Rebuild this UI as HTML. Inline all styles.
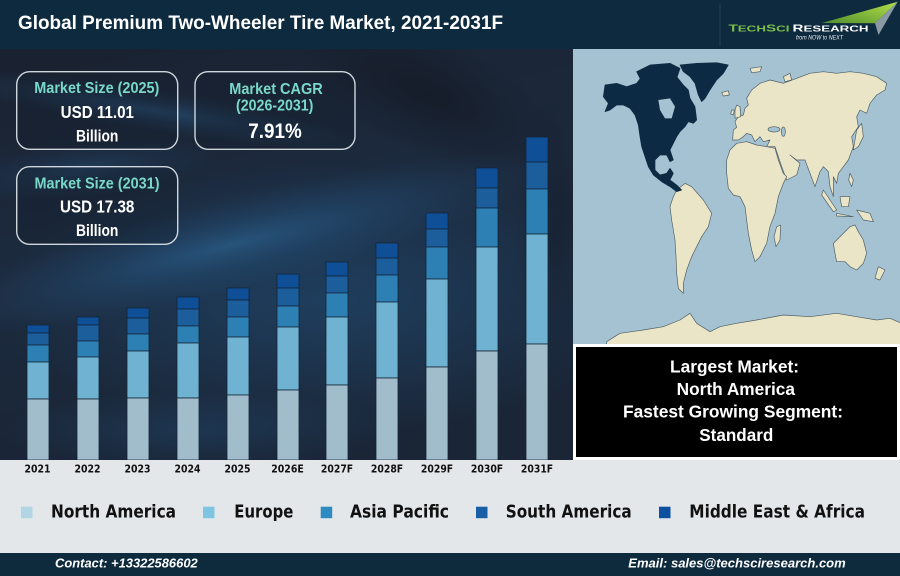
<!DOCTYPE html>
<html><head><meta charset="utf-8"><style>
html,body{margin:0;padding:0;}
body{width:900px;height:576px;overflow:hidden;background:#e3e7e9;}
svg{display:block;}
.ls{font-family:"Liberation Sans",Arial,sans-serif;font-weight:bold;}
.dj{font-family:"DejaVu Sans","Liberation Sans",sans-serif;font-weight:bold;}
</style></head><body>
<svg width="900" height="576" viewBox="0 0 900 576" xmlns="http://www.w3.org/2000/svg">
<defs>
<radialGradient id="g1" cx="0.5" cy="0.5" r="0.5">
<stop offset="0" stop-color="#2f6e9e" stop-opacity="0.55"/>
<stop offset="0.5" stop-color="#26598a" stop-opacity="0.25"/>
<stop offset="1" stop-color="#24547c" stop-opacity="0"/>
</radialGradient>
<radialGradient id="g2" cx="0.5" cy="0.5" r="0.5">
<stop offset="0" stop-color="#22507a" stop-opacity="0.55"/>
<stop offset="1" stop-color="#21507a" stop-opacity="0"/>
</radialGradient>
<radialGradient id="gd" cx="0.5" cy="0.5" r="0.5">
<stop offset="0" stop-color="#141a26" stop-opacity="0.8"/>
<stop offset="1" stop-color="#141a26" stop-opacity="0"/>
</radialGradient>
<linearGradient id="bgl" x1="0" y1="0" x2="0.3" y2="1">
<stop offset="0" stop-color="#1a2130"/>
<stop offset="0.5" stop-color="#1c2b3f"/>
<stop offset="1" stop-color="#1a2536"/>
</linearGradient>
<linearGradient id="grn" x1="1" y1="0" x2="0" y2="1">
<stop offset="0" stop-color="#b6e04a"/>
<stop offset="1" stop-color="#4f8f2c"/>
</linearGradient>
<clipPath id="chartclip"><rect x="0" y="49" width="573" height="411"/></clipPath>
<clipPath id="mapclip"><rect x="573" y="49" width="327" height="295"/></clipPath>
</defs>

<!-- header -->
<rect x="0" y="0" width="900" height="49" fill="#0e2a3f"/>
<text class="ls" x="18" y="29" font-size="19" fill="#ffffff" textLength="485" lengthAdjust="spacingAndGlyphs">Global Premium Two-Wheeler Tire Market, 2021-2031F</text>
<line x1="720" y1="4" x2="720" y2="46" stroke="#27425a" stroke-width="1"/>
<polygon points="897.7,1.7 822,23 875,23.3" fill="url(#grn)"/>
<polygon points="897.7,1.7 875,23.3 878.5,35" fill="#8a9aa4"/>
<text class="ls" x="728.5" y="31.7" font-size="8.6" fill="#7cc04a" textLength="61" lengthAdjust="spacingAndGlyphs"><tspan font-size="9.8">T</tspan>ECH<tspan font-size="9.8">S</tspan>CI</text>
<text class="ls" x="792.5" y="31.7" font-size="8.6" fill="#ffffff" textLength="76" lengthAdjust="spacingAndGlyphs"><tspan font-size="9.8">R</tspan>ESEARCH</text>
<text x="796" y="39.7" font-family="Liberation Sans, Arial, sans-serif" font-style="italic" font-size="6.3" fill="#e8eef2" textLength="47" lengthAdjust="spacingAndGlyphs">from NOW to NEXT</text>

<!-- chart background -->
<g clip-path="url(#chartclip)">
<rect x="0" y="49" width="573" height="411" fill="url(#bgl)"/>
<ellipse cx="330" cy="300" rx="330" ry="140" fill="url(#g2)"/>
<ellipse cx="230" cy="245" rx="320" ry="48" fill="url(#g1)" transform="rotate(-14 230 245)"/>
<ellipse cx="150" cy="110" rx="220" ry="22" fill="url(#g1)" transform="rotate(9 150 110)" opacity="0.8"/>
<ellipse cx="80" cy="170" rx="140" ry="28" fill="url(#g1)" transform="rotate(-6 80 170)" opacity="0.6"/>
<ellipse cx="200" cy="430" rx="200" ry="40" fill="url(#g2)" opacity="0.7"/>
<ellipse cx="430" cy="95" rx="150" ry="60" fill="url(#gd)" transform="rotate(25 430 95)"/>
<ellipse cx="555" cy="230" rx="40" ry="160" fill="url(#gd)" opacity="0.6"/>
</g>

<!-- KPI boxes -->
<rect x="16.7" y="71.7" width="161" height="77.6" rx="13" fill="#141d2c" fill-opacity="0.3" stroke="#cfd6dc" stroke-width="1.4"/>
<rect x="195" y="71.7" width="160" height="77.6" rx="13" fill="#141d2c" fill-opacity="0.3" stroke="#cfd6dc" stroke-width="1.4"/>
<rect x="16.7" y="166.7" width="161" height="77.6" rx="13" fill="#141d2c" fill-opacity="0.3" stroke="#cfd6dc" stroke-width="1.4"/>

<g class="ls" text-anchor="middle">
<text transform="translate(96.8,93) scale(1,1.08)" font-size="14.4" fill="#79d8c8" textLength="125" lengthAdjust="spacingAndGlyphs">Market Size (2025)</text>
<text transform="translate(97.3,118) scale(1,1.08)" font-size="16" fill="#ffffff" textLength="73.3" lengthAdjust="spacingAndGlyphs">USD 11.01</text>
<text transform="translate(97.2,141.5) scale(1,1.08)" font-size="15" fill="#ffffff" textLength="42.3" lengthAdjust="spacingAndGlyphs">Billion</text>

<text transform="translate(276,94) scale(1,1.08)" font-size="14.6" fill="#79d8c8" textLength="93.4" lengthAdjust="spacingAndGlyphs">Market CAGR</text>
<text transform="translate(274.7,110.5) scale(1,1.08)" font-size="14.6" fill="#79d8c8" textLength="77.3" lengthAdjust="spacingAndGlyphs">(2026-2031)</text>
<text transform="translate(275,138) scale(1,1.08)" font-size="20" fill="#ffffff" textLength="53.4" lengthAdjust="spacingAndGlyphs">7.91%</text>

<text transform="translate(97,188.5) scale(1,1.08)" font-size="14.4" fill="#79d8c8" textLength="125" lengthAdjust="spacingAndGlyphs">Market Size (2031)</text>
<text transform="translate(97.2,212.7) scale(1,1.08)" font-size="16" fill="#ffffff" textLength="74.3" lengthAdjust="spacingAndGlyphs">USD 17.38</text>
<text transform="translate(97.2,236) scale(1,1.08)" font-size="15" fill="#ffffff" textLength="42.3" lengthAdjust="spacingAndGlyphs">Billion</text>
</g>

<!-- bars -->
<g stroke="#152538" stroke-width="0.8">
<rect x="27" y="325" width="22" height="8" fill="#0e4f97"/>
<rect x="27" y="333" width="22" height="12" fill="#1c5d9b"/>
<rect x="27" y="345" width="22" height="17" fill="#2d80b3"/>
<rect x="27" y="362" width="22" height="37" fill="#6fb2d2"/>
<rect x="27" y="399" width="22" height="61" fill="#a1bccb"/>
<rect x="77" y="317" width="22" height="8" fill="#0e4f97"/>
<rect x="77" y="325" width="22" height="16" fill="#1c5d9b"/>
<rect x="77" y="341" width="22" height="16" fill="#2d80b3"/>
<rect x="77" y="357" width="22" height="42" fill="#6fb2d2"/>
<rect x="77" y="399" width="22" height="61" fill="#a1bccb"/>
<rect x="127" y="308" width="22" height="10" fill="#0e4f97"/>
<rect x="127" y="318" width="22" height="16" fill="#1c5d9b"/>
<rect x="127" y="334" width="22" height="17" fill="#2d80b3"/>
<rect x="127" y="351" width="22" height="47" fill="#6fb2d2"/>
<rect x="127" y="398" width="22" height="62" fill="#a1bccb"/>
<rect x="177" y="297" width="22" height="12" fill="#0e4f97"/>
<rect x="177" y="309" width="22" height="17" fill="#1c5d9b"/>
<rect x="177" y="326" width="22" height="17" fill="#2d80b3"/>
<rect x="177" y="343" width="22" height="55" fill="#6fb2d2"/>
<rect x="177" y="398" width="22" height="62" fill="#a1bccb"/>
<rect x="227" y="288" width="22" height="12" fill="#0e4f97"/>
<rect x="227" y="300" width="22" height="17" fill="#1c5d9b"/>
<rect x="227" y="317" width="22" height="20" fill="#2d80b3"/>
<rect x="227" y="337" width="22" height="58" fill="#6fb2d2"/>
<rect x="227" y="395" width="22" height="65" fill="#a1bccb"/>
<rect x="277" y="274" width="22" height="14" fill="#0e4f97"/>
<rect x="277" y="288" width="22" height="18" fill="#1c5d9b"/>
<rect x="277" y="306" width="22" height="21" fill="#2d80b3"/>
<rect x="277" y="327" width="22" height="63" fill="#6fb2d2"/>
<rect x="277" y="390" width="22" height="70" fill="#a1bccb"/>
<rect x="326" y="262" width="22" height="14" fill="#0e4f97"/>
<rect x="326" y="276" width="22" height="17" fill="#1c5d9b"/>
<rect x="326" y="293" width="22" height="24" fill="#2d80b3"/>
<rect x="326" y="317" width="22" height="68" fill="#6fb2d2"/>
<rect x="326" y="385" width="22" height="75" fill="#a1bccb"/>
<rect x="376" y="243" width="22" height="15" fill="#0e4f97"/>
<rect x="376" y="258" width="22" height="17" fill="#1c5d9b"/>
<rect x="376" y="275" width="22" height="27" fill="#2d80b3"/>
<rect x="376" y="302" width="22" height="76" fill="#6fb2d2"/>
<rect x="376" y="378" width="22" height="82" fill="#a1bccb"/>
<rect x="426" y="213" width="22" height="16" fill="#0e4f97"/>
<rect x="426" y="229" width="22" height="18" fill="#1c5d9b"/>
<rect x="426" y="247" width="22" height="32" fill="#2d80b3"/>
<rect x="426" y="279" width="22" height="88" fill="#6fb2d2"/>
<rect x="426" y="367" width="22" height="93" fill="#a1bccb"/>
<rect x="476" y="168" width="22" height="20" fill="#0e4f97"/>
<rect x="476" y="188" width="22" height="20" fill="#1c5d9b"/>
<rect x="476" y="208" width="22" height="39" fill="#2d80b3"/>
<rect x="476" y="247" width="22" height="104" fill="#6fb2d2"/>
<rect x="476" y="351" width="22" height="109" fill="#a1bccb"/>
<rect x="526" y="137" width="22" height="25" fill="#0e4f97"/>
<rect x="526" y="162" width="22" height="27" fill="#1c5d9b"/>
<rect x="526" y="189" width="22" height="45" fill="#2d80b3"/>
<rect x="526" y="234" width="22" height="110" fill="#6fb2d2"/>
<rect x="526" y="344" width="22" height="116" fill="#a1bccb"/>
</g>

<!-- lower band -->
<rect x="0" y="460" width="900" height="93" fill="#e3e7e9"/>

<!-- axis labels -->
<g class="dj" font-size="9.4" fill="#111111" text-anchor="middle">
<text transform="translate(37.5,472.3) scale(1,1.17)" textLength="26" lengthAdjust="spacingAndGlyphs">2021</text>
<text transform="translate(87.5,472.3) scale(1,1.17)" textLength="26" lengthAdjust="spacingAndGlyphs">2022</text>
<text transform="translate(137.5,472.3) scale(1,1.17)" textLength="26" lengthAdjust="spacingAndGlyphs">2023</text>
<text transform="translate(187.5,472.3) scale(1,1.17)" textLength="26" lengthAdjust="spacingAndGlyphs">2024</text>
<text transform="translate(237.5,472.3) scale(1,1.17)" textLength="26" lengthAdjust="spacingAndGlyphs">2025</text>
<text transform="translate(287.5,472.3) scale(1,1.17)" textLength="32.5" lengthAdjust="spacingAndGlyphs">2026E</text>
<text transform="translate(337,472.3) scale(1,1.17)" textLength="32.3" lengthAdjust="spacingAndGlyphs">2027F</text>
<text transform="translate(387,472.3) scale(1,1.17)" textLength="32.3" lengthAdjust="spacingAndGlyphs">2028F</text>
<text transform="translate(437,472.3) scale(1,1.17)" textLength="32.3" lengthAdjust="spacingAndGlyphs">2029F</text>
<text transform="translate(487,472.3) scale(1,1.17)" textLength="32.3" lengthAdjust="spacingAndGlyphs">2030F</text>
<text transform="translate(537,472.3) scale(1,1.17)" textLength="32.3" lengthAdjust="spacingAndGlyphs">2031F</text>
</g>

<!-- map -->
<g clip-path="url(#mapclip)">
<rect x="573" y="49" width="327" height="295" fill="#a4c2d1"/>
<g transform="translate(570,40) scale(0.33333)" stroke="#4d5d63" stroke-width="2" stroke-linejoin="round">
<polygon fill="#ebe5c8" points="488,300 490,270 500,262 495,245 505,230 520,225 525,205 535,195 530,175 545,150 570,130 600,120 640,130 680,115 720,100 760,95 800,100 840,95 880,100 920,110 950,130 945,150 920,165 900,190 890,220 870,210 860,230 865,260 845,290 850,320 835,360 820,380 805,400 800,430 790,410 790,470 780,440 775,395 760,380 750,395 735,440 720,400 705,360 680,360 660,345 690,370 680,405 650,420 635,380 620,335 615,320 590,320 600,300 580,305 570,290 555,305 545,285 530,280 520,290 505,300"/>
<ellipse cx="612" cy="268" rx="18" ry="8" fill="#a4c2d1"/>
<ellipse cx="640" cy="275" rx="6" ry="14" fill="#a4c2d1"/>
<polygon fill="#ebe5c8" points="500,195 510,200 512,230 495,235 495,210"/>
<polygon fill="#ebe5c8" points="485,210 493,210 490,225 482,222"/>
<polygon fill="#ebe5c8" points="455,158 475,152 478,165 460,168"/>
<polygon fill="#ebe5c8" points="540,85 575,80 570,95 545,98"/>
<polygon fill="#ebe5c8" points="640,110 660,100 665,120 645,125"/>
<polygon fill="#ebe5c8" points="480,330 500,310 530,305 560,315 590,320 615,325 625,360 640,400 650,410 640,430 625,470 615,520 600,560 590,610 570,650 555,665 545,630 535,580 530,540 525,500 510,470 490,465 475,445 470,400 470,360"/>
<polygon fill="#ebe5c8" points="620,560 632,555 630,600 618,620 612,590"/>
<polygon fill="#ebe5c8" points="320,450 345,430 365,440 400,480 425,520 415,560 395,590 385,610 365,650 350,690 340,730 340,760 325,745 320,700 318,650 315,600 305,540 300,500 310,470"/>
<polygon fill="#ebe5c8" points="790,610 820,580 840,560 855,555 865,575 880,600 890,640 880,670 860,690 840,680 825,665 800,665 795,640"/>
<polygon fill="#ebe5c8" points="860,510 900,520 910,545 880,540"/>
<polygon fill="#ebe5c8" points="810,470 840,470 835,500 815,500"/>
<polygon fill="#ebe5c8" points="760,450 800,510 790,515 755,465"/>
<polygon fill="#ebe5c8" points="800,520 850,530 800,528"/>
<polygon fill="#ebe5c8" points="860,270 875,250 880,290 865,320 850,330 855,300"/>
<polygon fill="#ebe5c8" points="840,400 850,420 845,440 836,420"/>
<polygon fill="#ebe5c8" points="925,680 945,690 930,720 915,715"/>
<polygon fill="#ebe5c8" points="110,905 150,880 220,870 280,860 330,840 360,820 380,850 420,875 450,860 500,850 560,840 640,825 720,830 800,820 860,830 920,840 960,835 995,850 995,935 110,935"/>
<polygon fill="#0c2a43" stroke="#0c2a43" points="105,135 140,130 170,140 200,130 215,110 250,100 290,95 320,110 340,135 355,150 360,175 375,200 380,240 370,250 355,245 345,260 330,275 320,290 310,310 300,330 310,360 300,365 290,345 270,345 255,360 255,390 270,405 290,400 300,385 310,400 300,420 320,435 335,450 320,455 300,440 275,425 250,405 235,380 225,350 215,320 210,290 205,255 195,225 180,205 160,195 140,195 120,210 105,215 115,190 100,170"/>
<polygon fill="#0c2a43" stroke="#0c2a43" points="200,95 240,75 300,70 330,85 320,115 290,125 250,130 215,125"/>
<polygon fill="#a4c2d1" stroke="none" points="265,180 300,175 315,200 305,235 285,235 270,210"/>
<polygon fill="#0c2a43" stroke="#0c2a43" points="330,75 380,70 440,68 475,75 460,100 440,120 420,150 405,175 395,185 385,165 375,130 360,110 340,95"/>
</g>
</g>

<!-- info box -->
<rect x="574.5" y="345.5" width="324" height="113" fill="#000000" stroke="#ffffff" stroke-width="3"/>
<g class="ls" font-size="17.4" fill="#ffffff" text-anchor="middle">
<text x="734.5" y="372.3" textLength="129" lengthAdjust="spacingAndGlyphs">Largest Market:</text>
<text x="735.8" y="395" textLength="118.3" lengthAdjust="spacingAndGlyphs">North America</text>
<text x="733" y="417.7" textLength="220" lengthAdjust="spacingAndGlyphs">Fastest Growing Segment:</text>
<text x="736.3" y="441" textLength="74" lengthAdjust="spacingAndGlyphs">Standard</text>
</g>

<!-- legend -->
<rect x="21" y="506.7" width="11.5" height="11.5" fill="#b2d5e5"/>
<rect x="203" y="506.7" width="11.5" height="11.5" fill="#7fc4e1"/>
<rect x="320.7" y="506.7" width="11.5" height="11.5" fill="#2e8bc1"/>
<rect x="476" y="506.7" width="11.5" height="11.5" fill="#1a5fa6"/>
<rect x="659" y="506.7" width="11.5" height="11.5" fill="#0d4fa0"/>
<g class="dj" font-size="15.3" fill="#111111">
<text transform="translate(51,517.3) scale(1,1.16)" textLength="125" lengthAdjust="spacingAndGlyphs">North America</text>
<text transform="translate(234.3,517.3) scale(1,1.16)" textLength="59" lengthAdjust="spacingAndGlyphs">Europe</text>
<text transform="translate(350,517.3) scale(1,1.16)" textLength="99" lengthAdjust="spacingAndGlyphs">Asia Pacific</text>
<text transform="translate(505.7,517.3) scale(1,1.16)" textLength="126" lengthAdjust="spacingAndGlyphs">South America</text>
<text transform="translate(689.3,517.3) scale(1,1.16)" textLength="175.7" lengthAdjust="spacingAndGlyphs">Middle East &amp; Africa</text>
</g>

<!-- footer -->
<rect x="0" y="553" width="900" height="23" fill="#0e2a3d"/>
<text class="ls" x="55" y="567.3" font-size="13" font-style="italic" fill="#ffffff" textLength="142.7" lengthAdjust="spacingAndGlyphs">Contact: +13322586602</text>
<text class="ls" x="628.3" y="567.3" font-size="13" font-style="italic" fill="#ffffff" textLength="217.4" lengthAdjust="spacingAndGlyphs">Email: sales@techsciresearch.com</text>
</svg>
</body></html>
